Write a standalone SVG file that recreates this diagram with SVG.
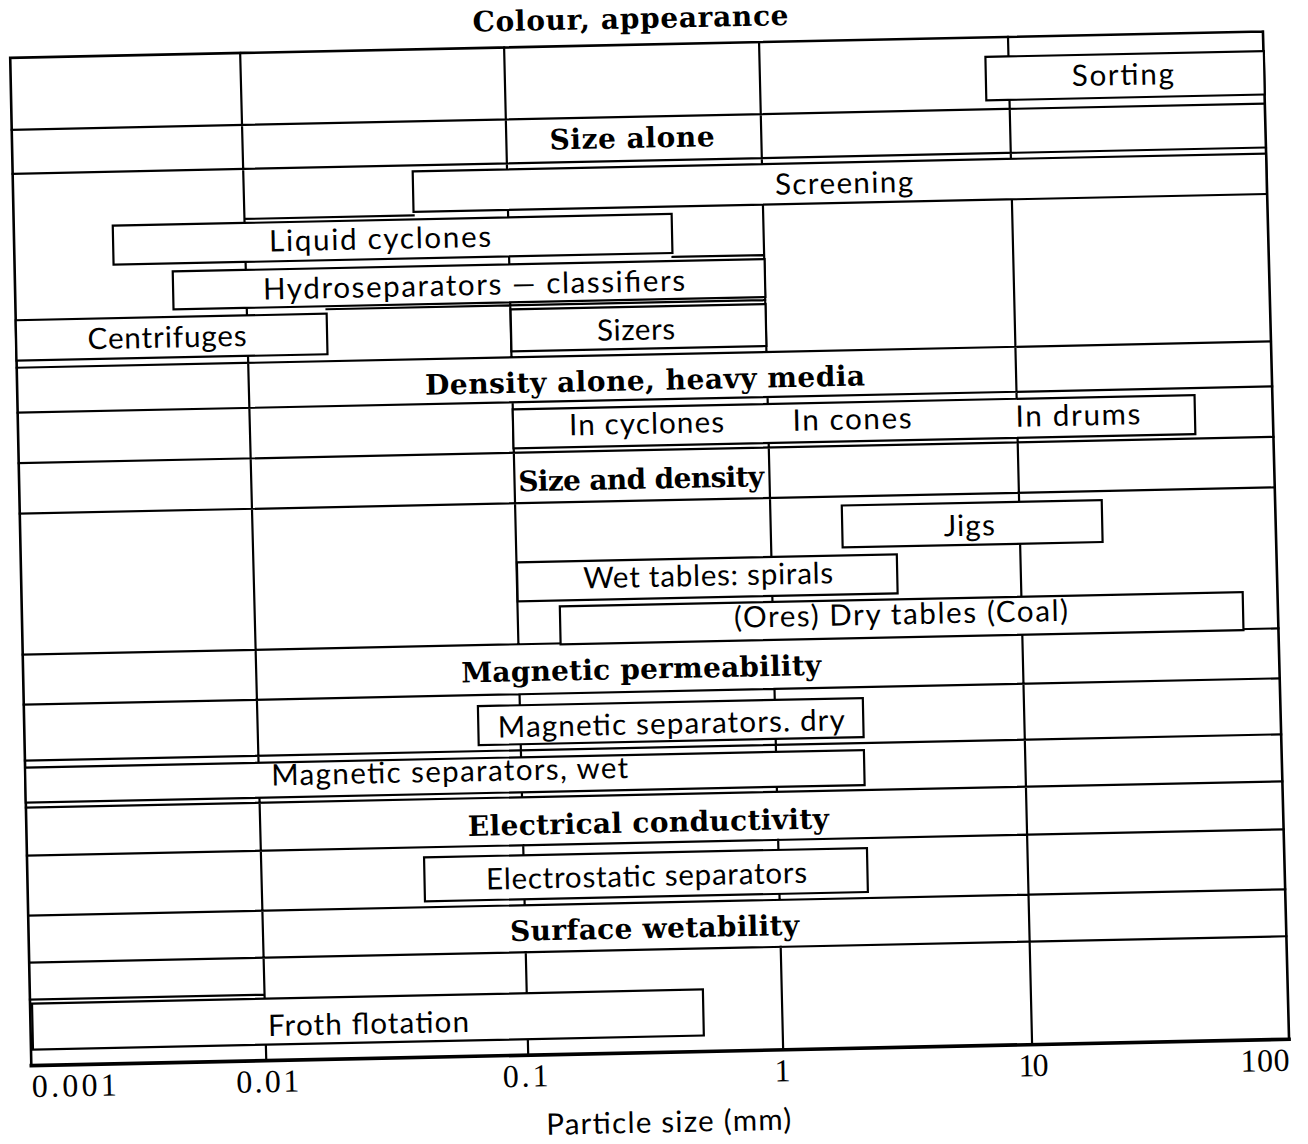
<svg xmlns="http://www.w3.org/2000/svg" width="1308" height="1144" viewBox="0 0 1308 1144">
<style>
.ln{stroke:#000;stroke-width:2.2;fill:none;stroke-linecap:square}
.bd{stroke:#000;stroke-width:2.6;fill:none;stroke-linecap:square}
.bt{stroke:#000;stroke-width:3.6;fill:none;stroke-linecap:square}
.bx{fill:#fff;stroke:#000;stroke-width:2.2}
.hd{font-family:"DejaVu Serif","Liberation Serif",serif;font-weight:bold;font-size:28px;text-anchor:middle;fill:#000}
.lb{font-family:Lato,"Liberation Sans",sans-serif;font-size:29.5px;text-anchor:middle;fill:#000}
.ax{font-family:"Liberation Serif",serif;font-size:32px;fill:#000}
</style>
<rect width="1308" height="1144" fill="#fff"/>
<g transform="rotate(-1.2)">
<g id="grid">
<path class="ln" d="M9 130H1262.4 M9 174H1262.6 M9 368H1263.5 M9 413H1263.8 M9 463.5H1264 M9 514H1264.3 M9 655H1265 M9 705H1265.2 M9 761H1265.5 M9 808H1265.7 M9 856H1266 M9 916H1266.3 M9 963H1266.5
M240 224H409 M667 271H758.6 M320 316H758.8 M9 1000H243.6
M239 58L244 1066
M1007 58L1010 1066
M503 58L503.9 368 M504.1 413L504.8 655 M504.9 705L505.2 808 M505.4 856L505.6 916 M505.7 963L506 1066
M758 58L758.9 368 M759.1 413L759.8 655 M759.9 705L760.2 808 M760.4 856L760.6 916 M760.7 963L761 1066"/>
<path class="bd" d="M9 58H1262 M9 58V1066 M1262 58L1267 1066"/>
<path class="bt" d="M9 1066H1267"/>
</g>
<g id="colour-appearance"><text class="hd" x="630" y="41.5" textLength="316" lengthAdjust="spacing">Colour, appearance</text></g>
<g id="sorting"><rect class="bx" x="984" y="77.5" width="278.5" height="43.5"/><text class="lb" x="1121" y="108.5" textLength="102" lengthAdjust="spacing">Sorting</text></g>
<g id="size-alone"><text class="hd" x="629" y="161" textLength="165" lengthAdjust="spacing">Size alone</text></g>
<g id="screening"><rect class="bx" x="409" y="180" width="853.5" height="40.5"/><text class="lb" x="840" y="211" textLength="138" lengthAdjust="spacing">Screening</text></g>
<g id="liquid-cyclones"><rect class="bx" x="108" y="228" width="559" height="39"/><text class="lb" x="375" y="257" textLength="222" lengthAdjust="spacing">Liquid cyclones</text></g>
<g id="hydroseparators"><rect class="bx" x="167" y="275" width="592" height="38"/><text class="lb" x="468" y="305" textLength="422" lengthAdjust="spacing">Hydroseparators — classifiers</text></g>
<g id="centrifuges"><rect class="bx" x="9" y="320.5" width="311" height="40.5"/><text class="lb" x="160" y="351" textLength="159" lengthAdjust="spacing">Centrifuges</text></g>
<g id="sizers"><rect class="bx" x="504" y="320" width="255" height="42"/><text class="lb" x="629" y="353.3" textLength="78" lengthAdjust="spacing">Sizers</text></g>
<g id="density-alone"><text class="hd" x="637" y="403.5" textLength="440" lengthAdjust="spacing">Density alone, heavy media</text></g>
<g id="heavy-media"><rect class="bx" x="504" y="420" width="682" height="39"/><text class="lb" x="637.5" y="447.2" textLength="155" lengthAdjust="spacing">In cyclones</text><text class="lb" x="843" y="447.2" textLength="119" lengthAdjust="spacing">In cones</text><text class="lb" x="1069" y="448" textLength="125" lengthAdjust="spacing">In drums</text></g>
<g id="size-and-density"><text class="hd" x="631" y="502" textLength="246" lengthAdjust="spacing">Size and density</text></g>
<g id="jigs"><rect class="bx" x="831" y="523" width="260" height="42"/><text class="lb" x="958" y="556" textLength="51" lengthAdjust="spacing">Jigs</text></g>
<g id="wet-tables"><rect class="bx" x="505" y="573" width="380" height="39"/><text class="lb" x="696" y="600.5" textLength="250" lengthAdjust="spacing">Wet tables: spirals</text></g>
<g id="dry-tables"><rect class="bx" x="547" y="618" width="683" height="38"/><text class="lb" x="888" y="643" textLength="334" lengthAdjust="spacing">(Ores) Dry tables (Coal)</text></g>
<g id="magnetic-permeability"><text class="hd" x="627" y="692" textLength="360" lengthAdjust="spacing">Magnetic permeability</text></g>
<g id="magnetic-dry"><rect class="bx" x="463" y="716" width="385" height="39"/><text class="lb" x="656" y="747.7" textLength="347" lengthAdjust="spacing">Magnetic separators. dry</text></g>
<g id="magnetic-wet"><rect class="bx" x="9" y="768" width="839" height="35"/><text class="lb" x="433.5" y="791" textLength="357" lengthAdjust="spacing">Magnetic separators, wet</text></g>
<g id="electrical-conductivity"><text class="hd" x="631" y="845.6" textLength="361" lengthAdjust="spacing">Electrical conductivity</text></g>
<g id="electrostatic"><rect class="bx" x="406" y="866" width="443" height="44"/><text class="lb" x="628" y="899.5" textLength="321" lengthAdjust="spacing">Electrostatic separators</text></g>
<g id="surface-wetability"><text class="hd" x="635" y="951.4" textLength="289" lengthAdjust="spacing">Surface wetability</text></g>
<g id="froth-flotation"><rect class="bx" x="11" y="1004" width="671" height="46"/><text class="lb" x="347" y="1041.4" textLength="201" lengthAdjust="spacing">Froth flotation</text></g>
<g id="axis">
<text class="ax" x="9" y="1097.5" textLength="85" lengthAdjust="spacing">0.001</text>
<text class="ax" x="245" y="1097.5" text-anchor="middle" textLength="63" lengthAdjust="spacing">0.01</text>
<text class="ax" x="503" y="1097.5" text-anchor="middle" textLength="46" lengthAdjust="spacing">0.1</text>
<text class="ax" x="760" y="1097.5" text-anchor="middle">1</text>
<text class="ax" x="1011" y="1097.5" text-anchor="middle" textLength="30" lengthAdjust="spacing">10</text>
<text class="ax" x="1267" y="1097.5" text-anchor="end" textLength="49" lengthAdjust="spacing">100</text>
<text class="lb" x="645" y="1146" textLength="245" lengthAdjust="spacing">Particle size (mm)</text>
</g>
</g>
</svg>
